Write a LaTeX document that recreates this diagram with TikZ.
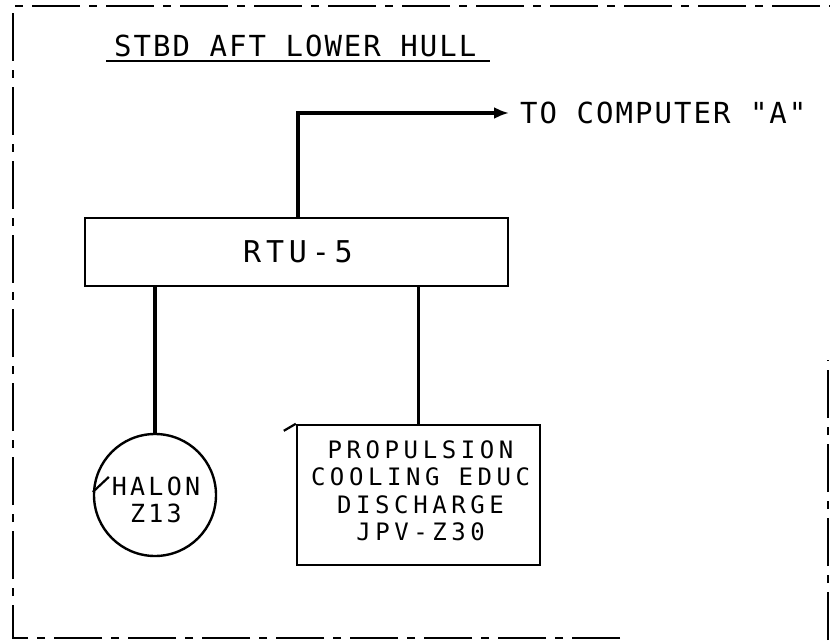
\documentclass[tikz,border=0pt]{standalone}
\usepackage{fontspec}
\usetikzlibrary{arrows.meta}
\newfontfamily\plotA[LetterSpace=7]{DejaVu Sans Mono}
\newfontfamily\plotB[LetterSpace=19]{DejaVu Sans Mono}
\newfontfamily\plotC[LetterSpace=13]{DejaVu Sans Mono}
\newfontfamily\plotD[LetterSpace=16]{DejaVu Sans Mono}
\begin{document}
\begin{tikzpicture}[x=1pt,y=-1pt,
  frame/.style={line width=2.2pt,dash pattern=on 48pt off 9pt on 8pt off 9pt},
  wire/.style={line width=3.5pt},
  box/.style={draw,line width=2.4pt,inner sep=0pt},
  lbl/.style={inner sep=0pt,text=black}]
\useasboundingbox (0,0) rectangle (830,644);
% frame
\draw[frame] (620,638) -- (13,638) -- (13,6) -- (830,6);
\draw[frame] (828,640) -- (828,360);
% title
\node[lbl,anchor=base west,font={\plotA\fontsize{29}{29}\selectfont}] (title) at (114,57) {STBD AFT LOWER HULL};
\draw[line width=2.4pt] (106,61) -- (490,61);
% RTU
\node[box,minimum width=423pt,minimum height=68pt] (rtu) at (296.5,252) {};
\node[lbl,font={\plotD\fontsize{30}{30}\selectfont}] (rtut) at (298,252) {RTU-5};
% arrow to computer
\coordinate (up) at (298,113);
\coordinate (tip) at (509,113);
\draw[wire,-{Latex[length=15pt,width=12pt]}] (rtu.north -| up) -- (up) -- (tip);
\node[lbl,anchor=west,font={\plotA\fontsize{29}{29}\selectfont}] (comp) at (520,113) {TO COMPUTER "A"};
% halon
\node[box,circle,minimum size=122pt] (halon) at (155,495) {};
\node[lbl,align=center,font={\plotC\fontsize{25}{27}\selectfont}] (halont) at (156,500) {HALON\\Z13};
\draw[line width=2.2pt] (halon.west) ++(0,-3) -- ++(16,-15);
\draw[wire] (rtu.south -| halon.north) -- (halon.north);
% propulsion box
\node[box,minimum width=243pt,minimum height=140pt] (prop) at (418.5,495) {};
\node[lbl,align=center,font={\plotB\fontsize{24}{27.5}\selectfont}] (propt) at (420.5,491) {PROPULSION\\COOLING EDUC\\DISCHARGE\\JPV-Z30};
\draw[line width=2.2pt] (prop.north west) -- ++(-12,7);
\draw[wire] (rtu.south -| prop.north) -- (prop.north);
\end{tikzpicture}
\end{document}
